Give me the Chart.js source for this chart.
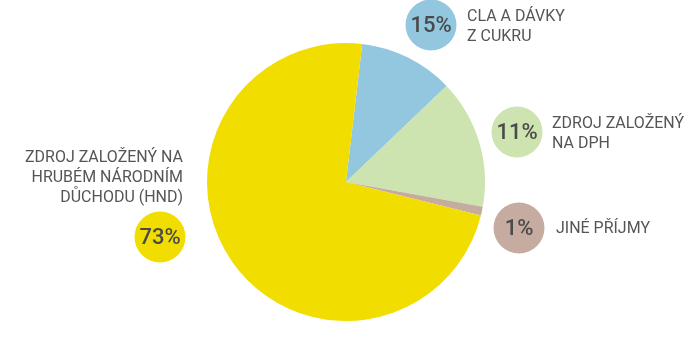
<!DOCTYPE html>
<html>
<head>
<meta charset="utf-8">
<script src="https://cdn.jsdelivr.net/npm/chart.js@4"></script>
<style>
  html, body { margin: 0; padding: 0; background: #fff; }
  #wrap { width: 686px; height: 350px; position: relative; }
</style>
</head>
<body>
<div id="wrap"><canvas id="pie"></canvas></div>
<script>
// slice data, in drawing order (clockwise from near the top)
const categories = ["CLA A DÁVKY Z CUKRU", "ZDROJ ZALOŽENÝ NA DPH", "JINÉ PŘÍJMY", "ZDROJ ZALOŽENÝ NA HRUBÉM NÁRODNÍM DŮCHODU (HND)"];
const sliceValues = [11, 15, 1, 73];
const badgeTexts = ["15%", "11%", "1%", "73%"];
const labelLines = [
  ["CLA A DÁVKY", "Z CUKRU"],
  ["ZDROJ ZALOŽENÝ", "NA DPH"],
  ["JINÉ PŘÍJMY"],
  ["ZDROJ ZALOŽENÝ NA", "HRUBÉM NÁRODNÍM", "DŮCHODU (HND)"]
];
const colors = ["#93c6df", "#cde3b0", "#c6aba1", "#f2dd00"];

const FONT = '"Roboto", sans-serif';
const TEXT_COLOR = "#555555";

// where each badge + text block sits
const badges = [
  { cx: 431, cy: 25, tx: 467, ty: 17, align: "left" },
  { cx: 517, cy: 132, tx: 552, ty: 124, align: "left" },
  { cx: 519, cy: 228, tx: 556, ty: 229, align: "left" },
  { cx: 160, cy: 237, tx: 183, ty: 158, align: "right" }
];

const badgePlugin = {
  id: "badges",
  afterDraw(chart) {
    const ctx = chart.ctx;
    ctx.save();
    // the original face is narrower than Roboto, squeeze the labels a bit
    ctx.font = "17px " + FONT;
    const sx = 158 / ctx.measureText("ZDROJ ZALOŽENÝ NA").width;

    badges.forEach((b, i) => {
      ctx.beginPath();
      ctx.arc(b.cx, b.cy, 25.5, 0, Math.PI * 2);
      ctx.fillStyle = colors[i];
      ctx.fill();

      ctx.fillStyle = "#4a4a4a";
      ctx.font = "500 22px " + FONT;
      ctx.textAlign = "center";
      ctx.textBaseline = "middle";
      ctx.fillText(badgeTexts[i], b.cx, b.cy + 1);

      ctx.save();
      ctx.translate(b.tx, b.ty);
      ctx.scale(sx, 1);
      ctx.fillStyle = TEXT_COLOR;
      ctx.font = "17px " + FONT;
      ctx.textAlign = b.align;
      labelLines[i].forEach((line, j) => {
        ctx.fillText(line, 0, j * 20);
      });
      ctx.restore();
    });
    ctx.restore();
  }
};

new Chart(document.getElementById("pie"), {
  type: "pie",
  data: {
    labels: categories,
    datasets: [{
      data: sliceValues,
      backgroundColor: colors,
      hoverBackgroundColor: colors,
      borderWidth: 0
    }]
  },
  options: {
    responsive: true,
    maintainAspectRatio: false,
    animation: false,
    rotation: 6.7,
    layout: { padding: { left: 207, right: 201, top: 43, bottom: 29 } },
    plugins: {
      legend: { display: false },
      tooltip: { enabled: false }
    }
  },
  plugins: [badgePlugin]
});
</script>
</body>
</html>
